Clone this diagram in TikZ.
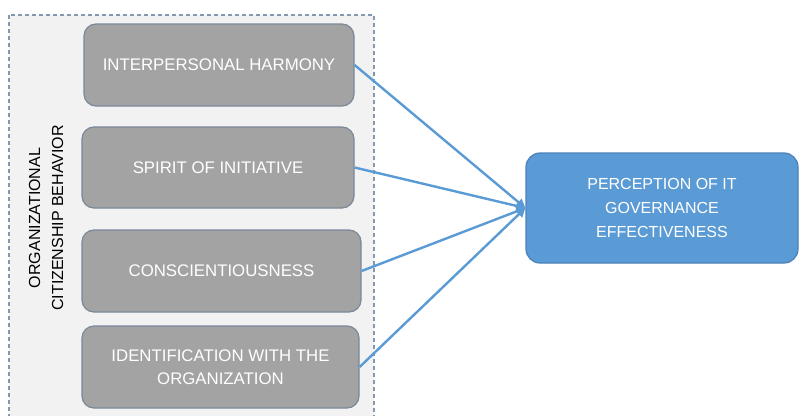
\documentclass[tikz,border=0pt]{standalone}
\usepackage{fontspec}
\setmainfont{Liberation Sans}
\usetikzlibrary{arrows.meta}
\definecolor{boxgray}{HTML}{A3A3A3}
\definecolor{boxedge}{HTML}{7A8899}
\definecolor{panel}{HTML}{F2F2F2}
\definecolor{panedge}{HTML}{8497B0}
\definecolor{blue1}{HTML}{5B9BD5}
\definecolor{blueedge}{HTML}{4A82B8}
\tikzset{
  graybox/.style={draw=boxedge, line width=1.2pt, fill=boxgray, rounded corners=12pt,
    text=white, font=\fontsize{16.8}{23}\selectfont, align=center, inner sep=0pt},
  bluebox/.style={draw=blueedge, line width=1.2pt, fill=blue1, rounded corners=14pt,
    text=white, font=\fontsize{16}{24}\selectfont, align=center, inner sep=0pt},
  link/.style={draw=blue1, line width=2.4pt, -{Triangle[length=9pt,width=9pt]}},
  sidelabel/.style={font=\fontsize{16}{23}\selectfont, align=center, rotate=90, inner sep=0pt}
}
\begin{document}
\begin{tikzpicture}[x=1pt,y=-1pt]
\useasboundingbox (0,0) rectangle (800,415);
\clip (0,0) rectangle (800,415);
\fill[white] (0,0) rectangle (800,415);
\draw[panedge, fill=panel, line width=1.2pt, dash pattern=on 4pt off 3pt] (9,15) rectangle (374,430);
\node[sidelabel] (side) at (46,218) {ORGANIZATIONAL\\CITIZENSHIP BEHAVIOR};
\node[graybox, minimum width=270pt, minimum height=82pt] (b1) at (219,65) {INTERPERSONAL HARMONY};
\node[graybox, minimum width=272pt, minimum height=81pt] (b2) at (218,167.5) {SPIRIT OF INITIATIVE};
\node[graybox, minimum width=279pt, minimum height=82pt] (b3) at (221.5,271) {CONSCIENTIOUSNESS};
\node[graybox, minimum width=277pt, minimum height=82pt] (b4) at (220.5,367) {IDENTIFICATION WITH THE\\ORGANIZATION};
\node[bluebox, minimum width=272pt, minimum height=110pt] (pc) at (662,208) {PERCEPTION OF IT\\GOVERNANCE\\EFFECTIVENESS};
\foreach \b in {b1,b2,b3,b4} \draw[link] (\b.east) -- (pc.west);
\end{tikzpicture}
\end{document}
